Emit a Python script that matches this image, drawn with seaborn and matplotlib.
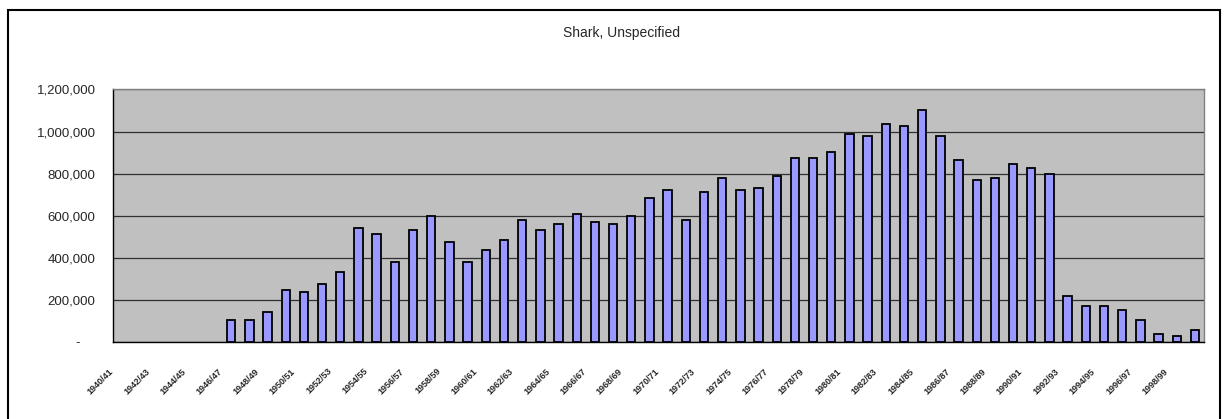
import numpy as np
import pandas as pd
import matplotlib
matplotlib.use("Agg")
import matplotlib.pyplot as plt
import matplotlib.transforms as mtrans
from matplotlib.patches import Rectangle
import seaborn as sns

# Datos (capturas, en unidades)
anios = [f"{y}/{(y + 1) % 100:02d}" for y in range(1940, 2000)]
capturas_miles = [
    np.nan, np.nan, np.nan, np.nan, np.nan, np.nan,
    103, 103, 141, 247, 238, 274, 333, 541, 514, 379, 531, 600, 474, 379,
    436, 484, 579, 531, 560, 608, 569, 560, 600, 684, 722, 580, 712, 780,
    722, 731, 790, 874, 874, 904, 988, 979, 1036, 1026, 1102, 979, 864, 769,
    779, 845, 826, 798, 217, 170, 170, 152, 103, 37, 27, 56,
]
capturas = [v * 1000 for v in capturas_miles]
titulo = "Shark, Unspecified"
yticks = [0, 200000, 400000, 600000, 800000, 1000000, 1200000]

df = pd.DataFrame({"anio": anios, "captura": capturas})

sns.set_style("white")
plt.rcParams["font.family"] = ["Liberation Sans", "DejaVu Sans"]

fig = plt.figure(figsize=(12.27, 4.19), dpi=100)
ax = fig.add_axes([0.0921, 0.1838, 0.8892, 0.6026])

sns.barplot(
    data=df.dropna(), x="anio", y="captura", order=anios,
    color="#9999FF", saturation=1, edgecolor="black", linewidth=1.3,
    width=0.46, errorbar=None, ax=ax,
)

ax.set_facecolor("#C0C0C0")
ax.set_xlim(-0.5, len(anios) - 0.5)
ax.set_ylim(0, 1200000)
ax.set_yticks(yticks)
ax.set_yticklabels(["-"] + [f"{v:,}" for v in yticks[1:]], fontsize=9.5)
ax.yaxis.grid(True, color="#303030", linewidth=0.9)
ax.set_axisbelow(True)

# etiquetas cada dos categorías, marcas entre categorías
pos = list(range(0, len(anios), 2))
ax.set_xticks(pos)
ax.set_xticklabels([anios[i] for i in pos], rotation=45, ha="right",
                   va="center", rotation_mode="anchor", fontsize=6.5,
                   fontweight="bold")
ax.set_xticks(np.arange(-0.5, len(anios), 1), minor=True)
ax.tick_params(axis="x", which="major", length=0, pad=20)
ax.tick_params(axis="x", which="minor", length=4, width=0.8, direction="out", color="black")
ax.tick_params(axis="y", length=4, width=0.8, direction="out", color="black", pad=8.5)
ax.set_xlabel("")
ax.set_ylabel("")

shift = mtrans.ScaledTranslation(-10 / 100, 0, fig.dpi_scale_trans)
for lab in ax.get_xticklabels():
    lab.set_transform(lab.get_transform() + shift)
cero = ax.get_yticklabels()[0]
cero.set_transform(cero.get_transform() + mtrans.ScaledTranslation(-16 / 100, 0, fig.dpi_scale_trans))

for s in ["left", "bottom"]:
    ax.spines[s].set_color("black")
    ax.spines[s].set_linewidth(1.0)
for s in ["top", "right"]:
    ax.spines[s].set_color("#808080")
    ax.spines[s].set_linewidth(1.0)

fig.text(0.5065, 0.921, titulo, ha="center", va="center", fontsize=10)

fig.patches.append(Rectangle((0.0065, -0.02), 0.988, 0.996, transform=fig.transFigure,
                             fill=False, edgecolor="black", linewidth=1.5))

fig.savefig("out.png", dpi=100)
